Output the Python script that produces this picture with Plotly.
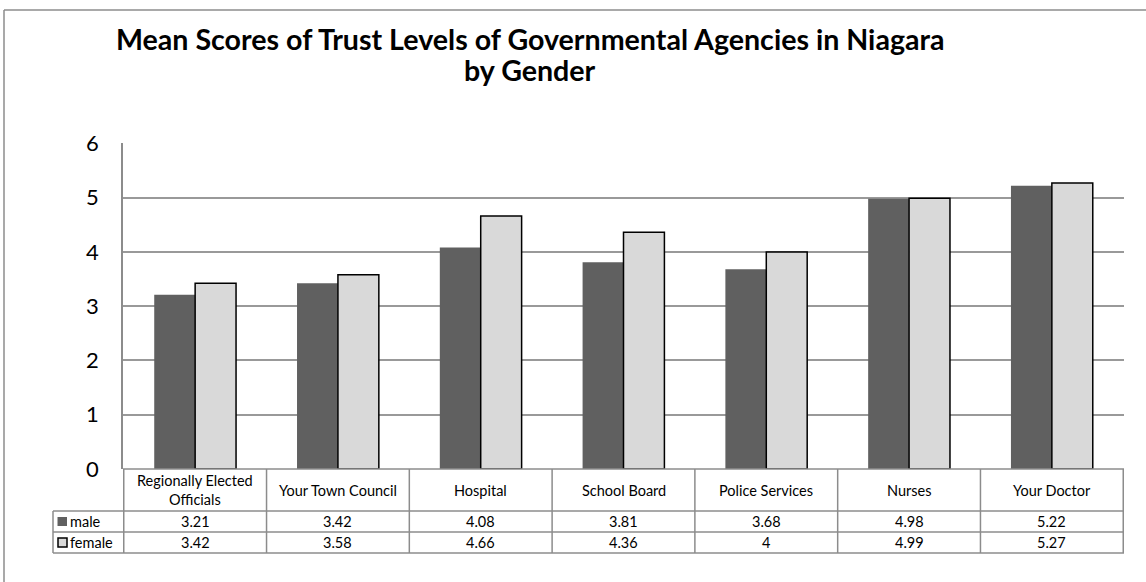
import plotly.graph_objects as go

categories = ["Regionally Elected Officials", "Your Town Council", "Hospital",
              "School Board", "Police Services", "Nurses", "Your Doctor"]
header_labels = ["Regionally Elected<br>Officials", "Your Town Council", "Hospital",
                 "School Board", "Police Services", "Nurses", "Your Doctor"]
male = [3.21, 3.42, 4.08, 3.81, 3.68, 4.98, 5.22]
female = [3.42, 3.58, 4.66, 4.36, 4, 4.99, 5.27]
male_text = ["3.21", "3.42", "4.08", "3.81", "3.68", "4.98", "5.22"]
female_text = ["3.42", "3.58", "4.66", "4.36", "4", "4.99", "5.27"]
series_names = ["male", "female"]
title_lines = ["Mean Scores of Trust Levels of Governmental Agencies in Niagara", "by Gender"]

W, H = 1146, 582
L, R, T, B = 123, 22, 143, 113
PW, PH = W - L - R, H - T - B
FONT = "Lato"
MALE_C = "#606060"
FEM_C = "#d9d9d9"
LINE_C = "#8c8c8c"
TFS = 14.5


def xp(px):
    return (px - L) / PW


def yp(py):
    return (H - B - py) / PH


fig = go.Figure()
fig.add_trace(go.Bar(x=categories, y=male, name=series_names[0],
                     marker=dict(color=MALE_C, line=dict(width=0))))
fig.add_trace(go.Bar(x=categories, y=female, name=series_names[1],
                     marker=dict(color=FEM_C, line=dict(color="black", width=1.5))))

shapes = []
annotations = []

row_hdr_bot = 511
row_male_bot = 532
row_fem_bot = 553
leg_left = 53

shapes.append(dict(type="line", xref="paper", yref="paper", x0=0, x1=1,
                   y0=yp(469), y1=yp(469), line=dict(color=LINE_C, width=1.5)))
for yy in [row_hdr_bot, row_male_bot, row_fem_bot]:
    shapes.append(dict(type="line", xref="paper", yref="paper", x0=xp(leg_left), x1=1,
                       y0=yp(yy), y1=yp(yy), line=dict(color=LINE_C, width=1.5)))
for i in range(len(categories) + 1):
    shapes.append(dict(type="line", xref="x", yref="paper", x0=i - 0.5, x1=i - 0.5,
                       y0=yp(469), y1=yp(row_fem_bot), line=dict(color=LINE_C, width=1.5)))
shapes.append(dict(type="line", xref="paper", yref="paper", x0=xp(leg_left), x1=xp(leg_left),
                   y0=yp(row_hdr_bot), y1=yp(row_fem_bot), line=dict(color=LINE_C, width=1.5)))

ym = (row_hdr_bot + row_male_bot) / 2
yf = (row_male_bot + row_fem_bot) / 2
shapes.append(dict(type="rect", xref="paper", yref="paper", x0=xp(57.5), x1=xp(67),
                   y0=yp(ym + 4.5), y1=yp(ym - 4.5), fillcolor=MALE_C, line=dict(width=0)))
shapes.append(dict(type="rect", xref="paper", yref="paper", x0=xp(58), x1=xp(67),
                   y0=yp(yf + 4.5), y1=yp(yf - 4.5), fillcolor=FEM_C,
                   line=dict(color="black", width=1.5)))
annotations.append(dict(text=series_names[0], xref="paper", yref="paper", x=xp(68), y=yp(ym),
                        xanchor="left", yanchor="middle", showarrow=False,
                        font=dict(family=FONT, size=TFS, color="black")))
annotations.append(dict(text=series_names[1], xref="paper", yref="paper", x=xp(68), y=yp(yf),
                        xanchor="left", yanchor="middle", showarrow=False,
                        font=dict(family=FONT, size=TFS, color="black")))

yh = (469 + row_hdr_bot) / 2
for cat, hl, mt, ft in zip(categories, header_labels, male_text, female_text):
    annotations.append(dict(text=hl, x=cat, xref="x", yref="paper", y=yp(yh),
                            showarrow=False, yanchor="middle",
                            font=dict(family=FONT, size=TFS, color="black")))
    annotations.append(dict(text=mt, x=cat, xref="x", yref="paper", y=yp(ym),
                            showarrow=False, yanchor="middle",
                            font=dict(family=FONT, size=TFS, color="black")))
    annotations.append(dict(text=ft, x=cat, xref="x", yref="paper", y=yp(yf),
                            showarrow=False, yanchor="middle",
                            font=dict(family=FONT, size=TFS, color="black")))

for line, ty in zip(title_lines, [39, 70]):
    annotations.append(dict(text="<b>" + line + "</b>", xref="paper", yref="paper",
                            x=xp(530), y=yp(ty), xanchor="center", yanchor="middle",
                            showarrow=False,
                            font=dict(family=FONT, size=28.6, color="black")))

# outer chart border (top and left edges; the rest lies outside the picture)
shapes.append(dict(type="line", xref="paper", yref="paper", x0=xp(4), x1=xp(W + 20),
                   y0=yp(10), y1=yp(10), line=dict(color="#8c8c8c", width=1.5)))
shapes.append(dict(type="line", xref="paper", yref="paper", x0=xp(4), x1=xp(4),
                   y0=yp(10), y1=yp(H + 20), line=dict(color="#8c8c8c", width=1.5)))

fig.update_layout(
    width=W, height=H,
    margin=dict(l=L, r=R, t=T, b=B),
    paper_bgcolor="white", plot_bgcolor="white",
    barmode="group", bargap=0.427, bargroupgap=0,
    showlegend=False,
    shapes=shapes, annotations=annotations,
    font=dict(family=FONT, color="black"),
)
fig.update_xaxes(showticklabels=False, ticks="", showgrid=False, showline=False,
                 zeroline=False)
fig.update_yaxes(range=[0, 6.006], dtick=1, tick0=0, showgrid=True, gridcolor="#999999",
                 gridwidth=1.5, zeroline=False, showline=True, linecolor=LINE_C,
                 linewidth=1.5, ticks="", ticklabelstandoff=18,
                 tickfont=dict(family=FONT, size=22, color="black"))

fig.write_html("out.html", config={"displayModeBar": False},
               post_script="document.body.style.margin='0';")
